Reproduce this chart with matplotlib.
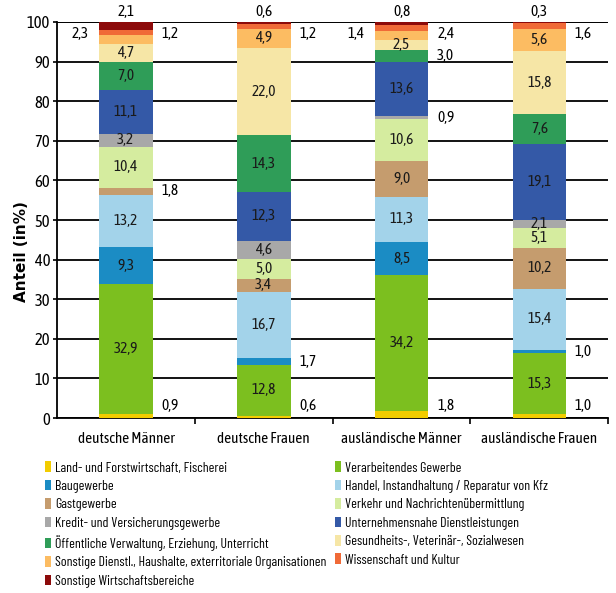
import matplotlib
matplotlib.use("Agg")
import matplotlib.pyplot as plt
from matplotlib.patches import Patch

plt.rcParams['font.family'] = ['Asap Condensed', 'Liberation Sans', 'DejaVu Sans']

groups = ['deutsche Männer', 'deutsche Frauen', 'ausländische Männer', 'ausländische Frauen']

sectors = [
    'Land- und Forstwirtschaft, Fischerei',
    'Verarbeitendes Gewerbe',
    'Baugewerbe',
    'Handel, Instandhaltung / Reparatur von Kfz',
    'Gastgewerbe',
    'Verkehr und Nachrichtenübermittlung',
    'Kredit- und Versicherungsgewerbe',
    'Unternehmensnahe Dienstleistungen',
    'Öffentliche Verwaltung, Erziehung, Unterricht',
    'Gesundheits-, Veterinär-, Sozialwesen',
    'Sonstige Dienstl., Haushalte, exterritoriale Organisationen',
    'Wissenschaft und Kultur',
    'Sonstige Wirtschaftsbereiche',
]

colors = ['#f2cc00', '#7cbf1f', '#1b8cc4', '#a3d3ea', '#c59c6e', '#d5ec9f',
          '#a8a8a8', '#3459a7', '#2f9d58', '#f6e6a6', '#fcbc62', '#f06a37', '#8c0a0a']

# values per sector (rows) for each group (columns)
values = [
    [0.9, 0.6, 1.8, 1.0],
    [32.9, 12.8, 34.2, 15.3],
    [9.3, 1.7, 8.5, 1.0],
    [13.2, 16.7, 11.3, 15.4],
    [1.8, 3.4, 9.0, 10.2],
    [10.4, 5.0, 10.6, 5.1],
    [3.2, 4.6, 0.9, 2.1],
    [11.1, 12.3, 13.6, 19.1],
    [7.0, 14.3, 3.0, 7.6],
    [4.7, 22.0, 2.5, 15.8],
    [2.3, 4.9, 2.4, 5.6],
    [1.2, 1.2, 1.4, 1.6],
    [2.1, 0.6, 0.8, 0.3],
]

# where the label of a segment goes: 'in' = inside, 'r' = right, 'l' = left, 't' = top
label_pos = [
    ['r', 'r', 'r', 'r'],
    ['in', 'in', 'in', 'in'],
    ['in', 'r', 'in', 'r'],
    ['in', 'in', 'in', 'in'],
    ['r', 'in', 'in', 'in'],
    ['in', 'in', 'in', 'in'],
    ['in', 'in', 'r', 'in'],
    ['in', 'in', 'in', 'in'],
    ['in', 'in', 'r', 'in'],
    ['in', 'in', 'in', 'in'],
    ['l', 'in', 'r', 'in'],
    ['r', 'r', 'l', 'r'],
    ['t', 't', 't', 't'],
]

fig = plt.figure(figsize=(6.16, 5.93), dpi=100)
ax = fig.add_axes([0.0925, 0.295, 0.895, 0.668])

x = list(range(len(groups)))
width = 0.39
bottoms = [0.0] * len(groups)
fs = 11
for i, sec in enumerate(sectors):
    ax.bar(x, values[i], width, bottom=bottoms, color=colors[i], zorder=3, label=sec)
    for j in x:
        v = values[i][j]
        mid = bottoms[j] + v / 2
        txt = f'{v:.1f}'.replace('.', ',')
        pos = label_pos[i][j]
        if pos == 'in':
            ax.text(j, mid, txt, ha='center', va='center', fontsize=fs, color='#1a1a1a', zorder=4)
        elif pos == 'r':
            yy = 3 if i == 0 else (97 if i >= 10 else mid)
            ax.text(j + 0.32, yy, txt, ha='center', va='center', fontsize=fs, zorder=4)
        elif pos == 'l':
            ax.text(j - 0.33, 97, txt, ha='center', va='center', fontsize=fs, zorder=4)
        else:
            ax.text(j, 102.5, txt, ha='center', va='center', fontsize=fs, zorder=4, clip_on=False)
        bottoms[j] += v

ax.set_xlim(-0.5, 3.5)
ax.set_ylim(0, 100)
ax.set_yticks(range(0, 101, 10))
ax.set_yticklabels([str(t) for t in range(0, 101, 10)], fontsize=12)
ax.set_xticks(x)
ax.set_xticklabels(groups, fontsize=11)
ax.tick_params(axis='x', length=0, pad=10)
ax.set_xticks([0.5, 1.5, 2.5, 3.5], minor=True)
ax.tick_params(axis='x', which='minor', length=4, width=1.2, direction='out')
ax.tick_params(axis='y', length=3, width=1.2, pad=2)

ax.grid(axis='y', color='black', linewidth=1.3, zorder=0)
ax.set_axisbelow(True)
ax.axhline(100, color='black', linewidth=1.3, zorder=0)
for s in ['top', 'right']:
    ax.spines[s].set_visible(False)
ax.spines['left'].set_linewidth(1.3)
ax.spines['bottom'].set_linewidth(1.3)

ax.set_ylabel('Anteil (in%)', fontsize=11, fontweight='bold', family='DejaVu Sans')
ax.yaxis.set_label_coords(-0.05, 0.42)

handles = [Patch(facecolor=c) for c in colors]
order = list(range(0, 13, 2)) + list(range(1, 13, 2))
fig.legend([handles[k] for k in order], [sectors[k] for k in order],
           ncol=2, loc='upper left', bbox_to_anchor=(0.052, 0.243),
           frameon=False, prop={'family': ['Barlow Condensed', 'Asap Condensed', 'DejaVu Sans'], 'size': 10},
           handlelength=0.45, handleheight=0.8,
           handletextpad=0.3, labelspacing=0.38, columnspacing=0.6)

fig.savefig('out.png', dpi=100)
